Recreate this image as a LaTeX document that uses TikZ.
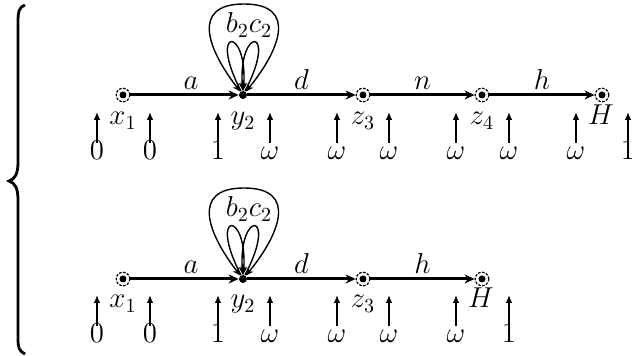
\documentclass[tikz,border=0pt]{standalone}
\usetikzlibrary{arrows.meta}
\begin{document}
\begin{tikzpicture}[x=0.5pt,y=-0.5pt,
  every node/.style={font=\fontsize{14.4}{17}\selectfont},
  ring/.style={circle, draw, line width=0.6pt, dash pattern=on 1.3pt off 0.7pt,
    minimum size=6.8pt, inner sep=0pt,
    path picture={\fill (path picture bounding box.center) circle (1.75pt);}},
  hub/.style={circle, fill, minimum size=4pt, inner sep=0pt},
  edge/.style={line width=1.5pt, -{Stealth[length=5pt,width=4.5pt]}},
  loopln/.style={line width=0.7pt, -{Stealth[length=4pt,width=3.5pt]}},
  uparrow/.style={line width=1.4pt, -{Latex[length=4pt,width=3.4pt]}},
  elab/.style={anchor=base, yshift=2.5pt, inner sep=0pt},
  vlab/.style={anchor=base, inner sep=0pt},
  numlab/.style={anchor=base, text height=0.68em, text depth=0pt, inner xsep=0pt, inner ysep=1.5pt}
]
\useasboundingbox (0,0) rectangle (632,356);

% brace
\draw[line width=1.4pt] (25,5) .. controls (19,7) and (18,12) .. (18,22) -- (18,162)
  .. controls (18,174) and (15,179) .. (9,181) .. controls (15,183) and (18,188) .. (18,200)
  -- (18,338) .. controls (18,348) and (19,351) .. (25,354);

% ---------- top row ----------
\node[ring] (x1) at (123,95) {};
\node[hub]  (y2) at (243,95) {};
\node[ring] (z3) at (363,95) {};
\node[ring] (z4) at (482,95) {};
\node[ring] (H)  at (602,95) {};
\draw[edge] (x1) -- node[elab,pos=0.56] {$a$} (y2);
\draw[edge] (y2) -- node[elab] {$d$} (z3);
\draw[edge] (z3) -- node[elab] {$n$} (z4);
\draw[edge] (z4) -- node[elab] {$h$} (H);
\node[vlab] (lx1) at (123,125) {$x_1$};
\node[vlab] (ly2) at (243,125) {$y_2$};
\node[vlab] (lz3) at (363,125) {$z_3$};
\node[vlab] (lz4) at (482,125) {$z_4$};
\node[vlab] (lH)  at (601,125) {$H$};
% loops
\coordinate (ta) at (244,4);
\draw[loopln] (ta) .. controls (190,4) and (208,50) .. (y2);
\draw[loopln] (ta) .. controls (298,4) and (280,50) .. (y2);
\draw[loopln] (y2) .. controls (207,26) and (248,26) .. (y2);
\draw[loopln] (y2) .. controls (279,26) and (238,26) .. (y2);
\node[anchor=base, inner sep=0pt] (bc) at (249,33) {$b_2c_2$};
% vertical arrows
\foreach \x/\t [count=\i] in {97/0,150/0,218/1,270/\omega,337/\omega,389/\omega,456/\omega,509/\omega,576/\omega,628/1}{
  \node[numlab] (ta\i) at (\x,160) {$\t$};
  \coordinate (tt\i) at (\x,112);
  \draw[uparrow] (ta\i.north) -- (tt\i);
}

% ---------- bottom row ----------
\node[ring] (bx1) at (123,279) {};
\node[hub]  (by2) at (243,279) {};
\node[ring] (bz3) at (363,279) {};
\node[ring] (bH)  at (482,279) {};
\draw[edge] (bx1) -- node[elab,pos=0.56] {$a$} (by2);
\draw[edge] (by2) -- node[elab] {$d$} (bz3);
\draw[edge] (bz3) -- node[elab] {$h$} (bH);
\node[vlab] (blx1) at (123,308) {$x_1$};
\node[vlab] (bly2) at (243,308) {$y_2$};
\node[vlab] (blz3) at (363,308) {$z_3$};
\node[vlab] (blH)  at (481,308) {$H$};
\coordinate (tb) at (244,188);
\draw[loopln] (tb) .. controls (190,188) and (208,234) .. (by2);
\draw[loopln] (tb) .. controls (298,188) and (280,234) .. (by2);
\draw[loopln] (by2) .. controls (207,210) and (248,210) .. (by2);
\draw[loopln] (by2) .. controls (279,210) and (238,210) .. (by2);
\node[anchor=base, inner sep=0pt] (bbc) at (249,217) {$b_2c_2$};
\foreach \x/\t [count=\i] in {97/0,150/0,218/1,270/\omega,337/\omega,389/\omega,456/\omega,509/1}{
  \node[numlab] (ba\i) at (\x,343) {$\t$};
  \coordinate (bt\i) at (\x,295);
  \draw[uparrow] (ba\i.north) -- (bt\i);
}
\end{tikzpicture}
\end{document}
